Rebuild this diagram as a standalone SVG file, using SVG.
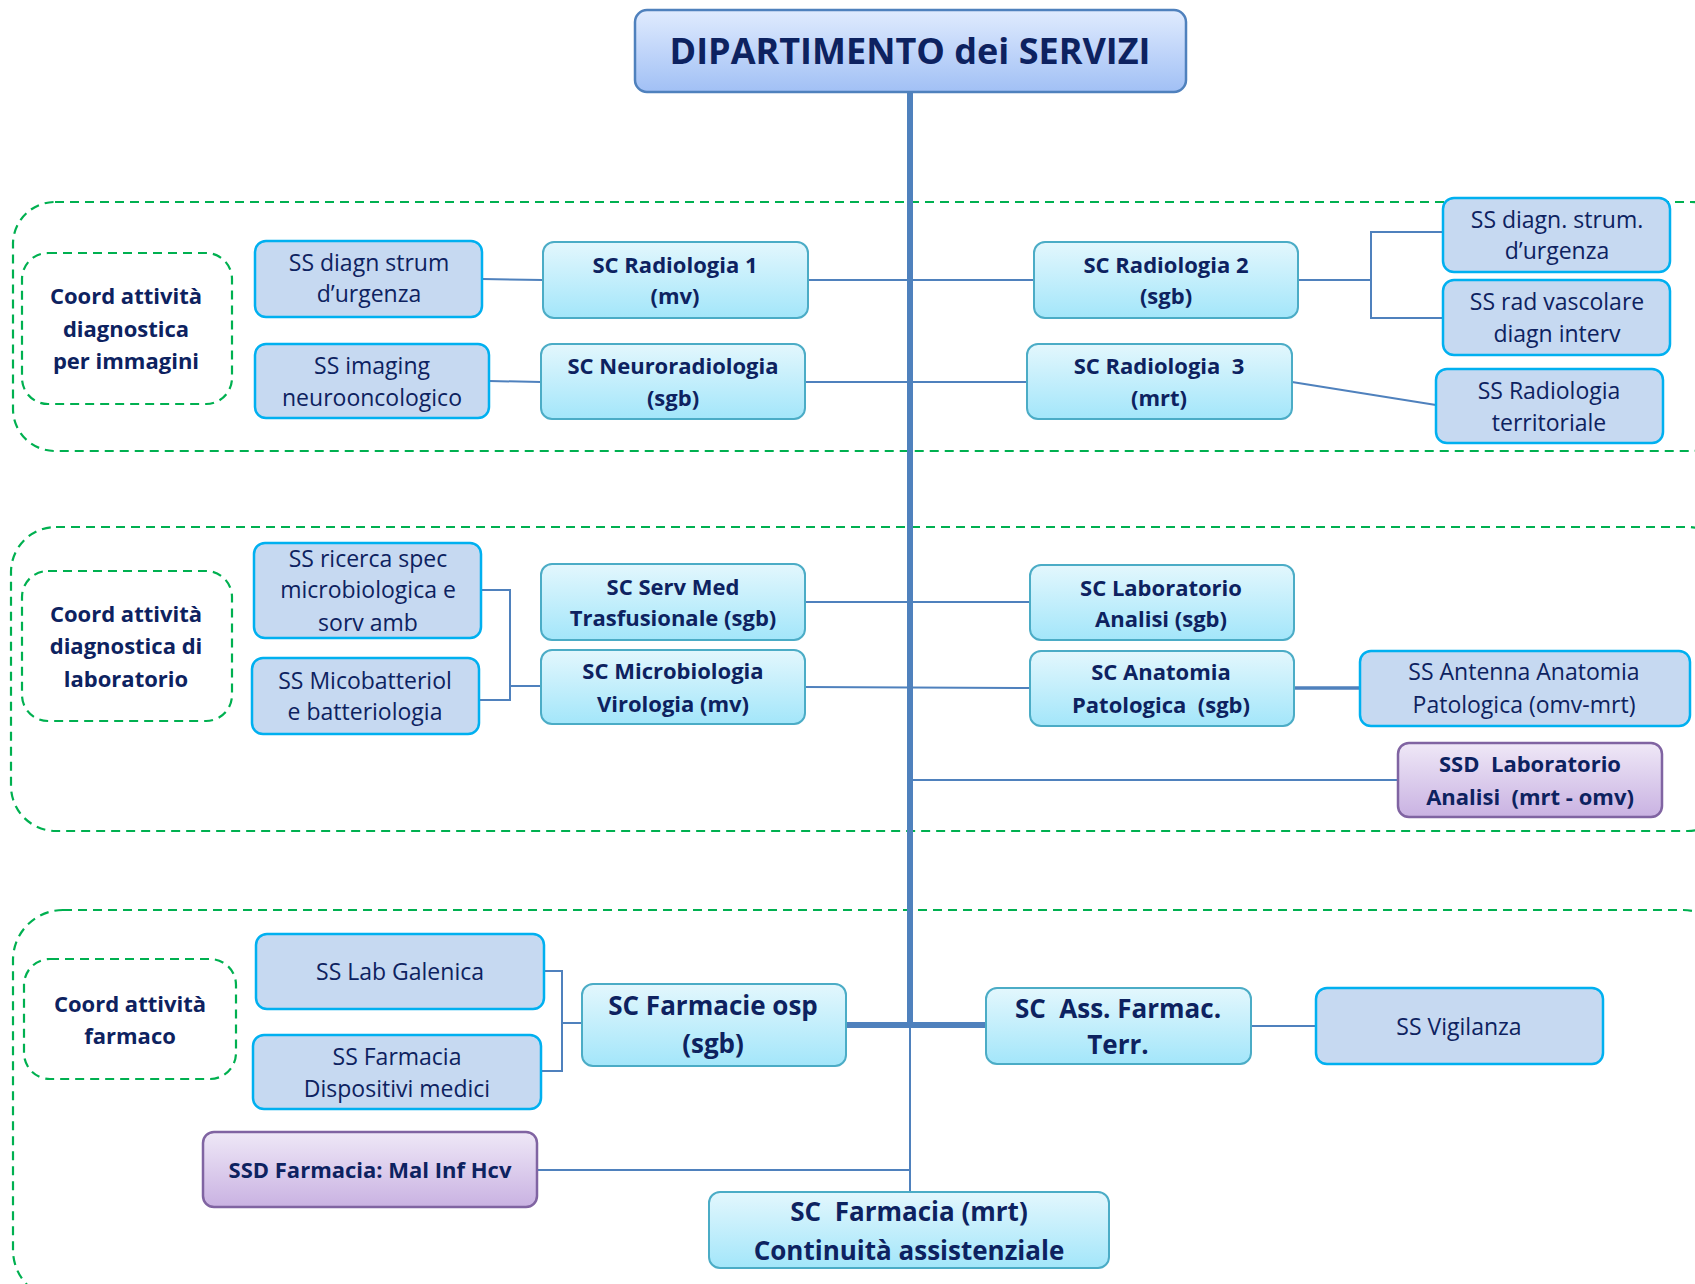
<svg xmlns="http://www.w3.org/2000/svg" width="1695" height="1284" viewBox="0 0 1695 1284">
<defs>
<linearGradient id="gSC" x1="0" y1="0" x2="0" y2="1"><stop offset="0" stop-color="#e3f7fd"/><stop offset="1" stop-color="#a3e6fa"/></linearGradient>
<linearGradient id="gSSD" x1="0" y1="0" x2="0" y2="1"><stop offset="0" stop-color="#efe8f7"/><stop offset="1" stop-color="#c9b2e2"/></linearGradient>
<linearGradient id="gT" x1="0" y1="0" x2="0" y2="1"><stop offset="0" stop-color="#e0ebfe"/><stop offset="1" stop-color="#a1c0f5"/></linearGradient>
<style>
.grp{fill:none;stroke:#00b050;stroke-width:2.2;stroke-dasharray:9 6}
.sc{fill:url(#gSC);stroke:#4bacc6;stroke-width:2}
.ss{fill:#c6d9f1;stroke:#00b0f0;stroke-width:2.5}
.ssd{fill:url(#gSSD);stroke:#8064a2;stroke-width:2.5}
.tt{fill:url(#gT);stroke:#4f81bd;stroke-width:2.5}
text{font-family:"Open Sans","Noto Sans",sans-serif;fill:#0d2260;text-anchor:middle}
.b{font-weight:bold;font-size:22px}
.r{font-size:23px}
.big{font-weight:bold;font-size:26px}
.c{stroke:#4f81bd;stroke-width:2;fill:none}
.m{stroke:#4f81bd;stroke-width:6;fill:none}
</style>
</defs>
<rect width="1695" height="1284" fill="#ffffff"/>
<g id="groups">
<rect class="grp" x="13" y="202" width="1720" height="249" rx="42"/>
<rect class="grp" x="11" y="527" width="1722" height="304" rx="45"/>
<rect class="grp" x="13" y="910" width="1720" height="390" rx="50"/>
</g>
<g id="connectors">
<line class="m" x1="910" y1="92" x2="910" y2="1025"/>
<line class="c" x1="910" y1="1025" x2="910" y2="1192"/>
<line class="m" x1="846" y1="1025" x2="986" y2="1025"/>
<line class="c" x1="482" y1="279" x2="543" y2="280"/>
<line class="c" x1="489" y1="381" x2="541" y2="382"/>
<line class="c" x1="808" y1="280" x2="1034" y2="280"/>
<line class="c" x1="805" y1="382" x2="1027" y2="382"/>
<polyline class="c" points="1298,280 1371,280"/>
<polyline class="c" points="1443,232 1371,232 1371,318 1443,318"/>
<line class="c" x1="1292" y1="382" x2="1436" y2="405"/>
<polyline class="c" points="481,590 510,590 510,700 479,700"/>
<line class="c" x1="510" y1="686" x2="541" y2="686"/>
<line class="c" x1="805" y1="602" x2="1030" y2="602"/>
<line class="c" x1="805" y1="687" x2="1030" y2="688"/>
<line class="c" x1="1294" y1="688" x2="1360" y2="688" style="stroke-width:3.5"/>
<line class="c" x1="910" y1="780" x2="1398" y2="780"/>
<polyline class="c" points="544,971 562,971 562,1071 541,1071"/>
<line class="c" x1="562" y1="1023" x2="582" y2="1023"/>
<line class="c" x1="1251" y1="1026" x2="1316" y2="1026"/>
<line class="c" x1="537" y1="1170" x2="910" y2="1170"/>
</g>
<g id="title"><rect class="tt" x="635" y="10" width="551" height="82" rx="12"/><text x="910" y="64" style="font-weight:bold;font-size:36px">DIPARTIMENTO dei SERVIZI</text></g>
<g id="coord1"><rect class="grp" x="22" y="253" width="210" height="151" rx="26"/><text class="b" x="126"><tspan x="126" y="304">Coord attività</tspan><tspan x="126" y="337">diagnostica</tspan><tspan x="126" y="369">per immagini</tspan></text></g>
<g id="ss-diagn-strum"><rect class="ss" x="255" y="241" width="227" height="76" rx="11"/><text class="r"><tspan x="369" y="271">SS diagn strum</tspan><tspan x="369" y="302">d’urgenza</tspan></text></g>
<g id="ss-imaging"><rect class="ss" x="255" y="344" width="234" height="74" rx="11"/><text class="r"><tspan x="372" y="374">SS imaging</tspan><tspan x="372" y="406">neurooncologico</tspan></text></g>
<g id="sc-rad1"><rect class="sc" x="543" y="242" width="265" height="76" rx="11"/><text class="b"><tspan x="675" y="273">SC Radiologia 1</tspan><tspan x="675" y="304">(mv)</tspan></text></g>
<g id="sc-neuro"><rect class="sc" x="541" y="344" width="264" height="75" rx="11"/><text class="b"><tspan x="673" y="374">SC Neuroradiologia</tspan><tspan x="673" y="406">(sgb)</tspan></text></g>
<g id="sc-rad2"><rect class="sc" x="1034" y="242" width="264" height="76" rx="11"/><text class="b"><tspan x="1166" y="273">SC Radiologia 2</tspan><tspan x="1166" y="304">(sgb)</tspan></text></g>
<g id="sc-rad3"><rect class="sc" x="1027" y="344" width="265" height="75" rx="11"/><text class="b"><tspan x="1159" y="374" xml:space="preserve">SC Radiologia  3</tspan><tspan x="1159" y="406">(mrt)</tspan></text></g>
<g id="ss-diagn-strum2"><rect class="ss" x="1443" y="198" width="227" height="74" rx="11"/><text class="r"><tspan x="1557" y="228">SS diagn. strum.</tspan><tspan x="1557" y="259">d’urgenza</tspan></text></g>
<g id="ss-rad-vasc"><rect class="ss" x="1443" y="280" width="227" height="75" rx="11"/><text class="r"><tspan x="1557" y="310">SS rad vascolare</tspan><tspan x="1557" y="342">diagn interv</tspan></text></g>
<g id="ss-rad-terr"><rect class="ss" x="1436" y="369" width="227" height="74" rx="11"/><text class="r"><tspan x="1549" y="399">SS Radiologia</tspan><tspan x="1549" y="431">territoriale</tspan></text></g>
<g id="coord2"><rect class="grp" x="22" y="571" width="210" height="150" rx="26"/><text class="b"><tspan x="126" y="622">Coord attività</tspan><tspan x="126" y="654">diagnostica di</tspan><tspan x="126" y="687">laboratorio</tspan></text></g>
<g id="ss-ricerca"><rect class="ss" x="254" y="543" width="227" height="95" rx="11"/><text class="r"><tspan x="368" y="567">SS ricerca spec</tspan><tspan x="368" y="598">microbiologica e</tspan><tspan x="368" y="631">sorv amb</tspan></text></g>
<g id="ss-micobatt"><rect class="ss" x="252" y="658" width="227" height="76" rx="11"/><text class="r"><tspan x="365" y="689">SS Micobatteriol</tspan><tspan x="365" y="720">e batteriologia</tspan></text></g>
<g id="sc-trasf"><rect class="sc" x="541" y="564" width="264" height="76" rx="11"/><text class="b"><tspan x="673" y="595">SC Serv Med</tspan><tspan x="673" y="626">Trasfusionale (sgb)</tspan></text></g>
<g id="sc-micro"><rect class="sc" x="541" y="650" width="264" height="74" rx="11"/><text class="b"><tspan x="673" y="679">SC Microbiologia</tspan><tspan x="673" y="712">Virologia (mv)</tspan></text></g>
<g id="sc-lab"><rect class="sc" x="1030" y="565" width="264" height="75" rx="11"/><text class="b"><tspan x="1161" y="596">SC Laboratorio</tspan><tspan x="1161" y="627">Analisi (sgb)</tspan></text></g>
<g id="sc-anat"><rect class="sc" x="1030" y="651" width="264" height="75" rx="11"/><text class="b"><tspan x="1161" y="680">SC Anatomia</tspan><tspan x="1161" y="713" xml:space="preserve">Patologica  (sgb)</tspan></text></g>
<g id="ss-antenna"><rect class="ss" x="1360" y="651" width="330" height="75" rx="11"/><text class="r"><tspan x="1524" y="680">SS Antenna Anatomia</tspan><tspan x="1524" y="713">Patologica (omv-mrt)</tspan></text></g>
<g id="ssd-lab"><rect class="ssd" x="1398" y="743" width="264" height="74" rx="11"/><text class="b"><tspan x="1530" y="772" xml:space="preserve">SSD  Laboratorio</tspan><tspan x="1530" y="805" xml:space="preserve">Analisi  (mrt - omv)</tspan></text></g>
<g id="coord3"><rect class="grp" x="24" y="959" width="212" height="120" rx="26"/><text class="b"><tspan x="130" y="1012">Coord attività</tspan><tspan x="130" y="1044">farmaco</tspan></text></g>
<g id="ss-galenica"><rect class="ss" x="256" y="934" width="288" height="75" rx="11"/><text class="r" x="400" y="980">SS Lab Galenica</text></g>
<g id="ss-disp"><rect class="ss" x="253" y="1035" width="288" height="74" rx="11"/><text class="r"><tspan x="397" y="1065">SS Farmacia</tspan><tspan x="397" y="1097">Dispositivi medici</tspan></text></g>
<g id="sc-farmacie-osp"><rect class="sc" x="582" y="984" width="264" height="82" rx="11"/><text class="big"><tspan x="713" y="1015">SC Farmacie osp</tspan><tspan x="713" y="1053">(sgb)</tspan></text></g>
<g id="sc-ass-farmac"><rect class="sc" x="986" y="988" width="265" height="76" rx="11"/><text class="big"><tspan x="1118" y="1018" xml:space="preserve">SC  Ass. Farmac.</tspan><tspan x="1118" y="1054">Terr.</tspan></text></g>
<g id="ss-vigilanza"><rect class="ss" x="1316" y="988" width="287" height="76" rx="11"/><text class="r" x="1459" y="1035">SS Vigilanza</text></g>
<g id="ssd-farmacia"><rect class="ssd" x="203" y="1132" width="334" height="75" rx="11"/><text class="b" x="370" y="1178">SSD Farmacia: Mal Inf Hcv</text></g>
<g id="sc-farmacia-mrt"><rect class="sc" x="709" y="1192" width="400" height="76" rx="11"/><text class="big"><tspan x="909" y="1221" xml:space="preserve">SC  Farmacia (mrt)</tspan><tspan x="909" y="1260">Continuità assistenziale</tspan></text></g>
</svg>
